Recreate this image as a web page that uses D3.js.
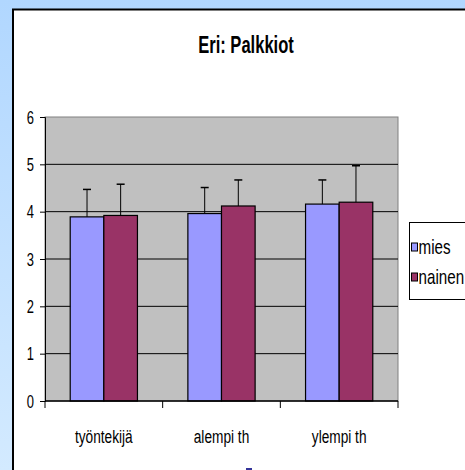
<!DOCTYPE html>
<html><head><meta charset="utf-8">
<script src="https://cdn.jsdelivr.net/npm/d3@7"></script>
<style>html,body{margin:0;padding:0;overflow:hidden;}svg{display:block;}</style>
</head><body>
<script>
const title = "Eri: Palkkiot";
const categories = ["työntekijä", "alempi th", "ylempi th"];
const seriesNames = ["mies", "nainen"];
const miesValues = [3.89, 3.96, 4.16];
const nainenValues = [3.92, 4.12, 4.20];
const miesErrTop = [4.47, 4.51, 4.67];
const nainenErrTop = [4.58, 4.67, 4.97];
const yTicks = [0, 1, 2, 3, 4, 5, 6];
const colors = ["#9999FF", "#993366"];

const W = 465, H = 470;
const svg = d3.select("body").append("svg").attr("width", W).attr("height", H);
const defs = svg.append("defs");
const grad = defs.append("linearGradient").attr("id","bg").attr("x1",0).attr("y1",0).attr("x2",0).attr("y2",1);
grad.append("stop").attr("offset","0%").attr("stop-color","#b1d7ff");
grad.append("stop").attr("offset","100%").attr("stop-color","#d3eaff");
svg.append("rect").attr("width",W).attr("height",H).attr("fill","url(#bg)");
svg.append("rect").attr("x",13).attr("y",9.5).attr("width",W+10).attr("height",H+10)
  .attr("fill","#fff").attr("stroke","#000").attr("stroke-width",2);

const FONT = "'Liberation Sans', Arial, sans-serif";
function condText(g, x, y, txt, size, anchor, weight, sx) {
  return g.append("text").attr("transform", `translate(${x},${y}) scale(${sx || 0.72},1)`)
    .attr("text-anchor", anchor).attr("font-family", FONT).attr("font-size", size)
    .attr("font-weight", weight || "normal").attr("fill", "#000").text(txt);
}

const plot = {left: 45, top: 117, right: 398, bottom: 401};
const x0 = d3.scaleBand().domain(categories).range([plot.left, plot.right]).paddingInner(0).paddingOuter(0);
const x1 = d3.scaleBand().domain(seriesNames).range([0, x0.bandwidth()]).paddingInner(0).paddingOuter(0.75);
const y = d3.scaleLinear().domain([0, 6]).range([plot.bottom, plot.top]);

svg.append("rect").attr("x",plot.left).attr("y",plot.top).attr("width",plot.right-plot.left)
  .attr("height",plot.bottom-plot.top).attr("fill","#C0C0C0").attr("stroke","#808080").attr("stroke-width",1);

// gridlines
svg.append("g").selectAll("line").data(yTicks.filter(d => d > 0 && d < 6)).join("line")
  .attr("x1",plot.left).attr("x2",plot.right).attr("y1",d=>y(d)).attr("y2",d=>y(d))
  .attr("stroke","#000").attr("stroke-width",1);

// y axis
const yAxis = svg.append("g").attr("transform",`translate(${plot.left},0)`)
  .call(d3.axisLeft(y).tickValues(yTicks).tickSize(5).tickFormat(""));
yAxis.select(".domain").attr("stroke","#000");
yAxis.selectAll(".tick line").attr("stroke","#000");
yTicks.forEach(t => condText(svg, 34, y(t) + 6.5, String(t), 18, "end"));

// bars
const data = categories.map((c,i) => ({cat:c, vals:[
  {s:"mies", v:miesValues[i], e:miesErrTop[i], c:colors[0]},
  {s:"nainen", v:nainenValues[i], e:nainenErrTop[i], c:colors[1]}]}));
const groups = svg.append("g").selectAll("g").data(data).join("g")
  .attr("transform", d => `translate(${x0(d.cat)},0)`);
groups.selectAll("rect").data(d => d.vals).join("rect")
  .attr("x", d => x1(d.s)).attr("y", d => y(d.v))
  .attr("width", x1.bandwidth()).attr("height", d => y(0) - y(d.v))
  .attr("fill", d => d.c).attr("stroke","#000").attr("stroke-width",1.2);
// error bars
groups.selectAll("line.err").data(d => d.vals).join("line").attr("class","err")
  .attr("x1", d => x1(d.s)+x1.bandwidth()/2).attr("x2", d => x1(d.s)+x1.bandwidth()/2)
  .attr("y1", d => y(d.v)).attr("y2", d => y(d.e)).attr("stroke","#000").attr("stroke-width",1);
groups.selectAll("line.cap").data(d => d.vals).join("line").attr("class","cap")
  .attr("x1", d => x1(d.s)+x1.bandwidth()/2-4).attr("x2", d => x1(d.s)+x1.bandwidth()/2+4)
  .attr("y1", d => y(d.e)).attr("y2", d => y(d.e)).attr("stroke","#000").attr("stroke-width",1.5);

// x axis
const xAxisG = svg.append("g").attr("transform",`translate(0,${plot.bottom})`);
xAxisG.append("line").attr("x1",plot.left).attr("x2",plot.right).attr("stroke","#000").attr("stroke-width",1.5);
const bounds = [plot.left].concat(categories.map(c => x0(c) + x0.bandwidth()));
xAxisG.selectAll("line.t").data(bounds).join("line").attr("class","t")
  .attr("x1",d=>d).attr("x2",d=>d).attr("y1",0).attr("y2",7).attr("stroke","#000");
categories.forEach(c => condText(svg, x0(c)+x0.bandwidth()/2, 443, c, 19, "middle"));

// title
condText(svg, 246, 53, title, 23, "middle", "bold");

// legend
const lg = svg.append("g");
lg.append("rect").attr("x",409.5).attr("y",222.5).attr("width",80).attr("height",77)
  .attr("fill","#fff").attr("stroke","#000").attr("stroke-width",1);
seriesNames.forEach((s,i) => {
  const ly = 247 + i*30;
  lg.append("rect").attr("x",411.5).attr("y",ly-4).attr("width",6).attr("height",8)
    .attr("fill",colors[i]).attr("stroke","#000").attr("stroke-width",1);
  condText(lg, 418.5, ly+6.5, s, 20, "start", "normal", 0.76);
});

// small mark at bottom
svg.append("rect").attr("x",246).attr("y",468).attr("width",6).attr("height",2).attr("fill","#333399");
</script>
</body></html>
